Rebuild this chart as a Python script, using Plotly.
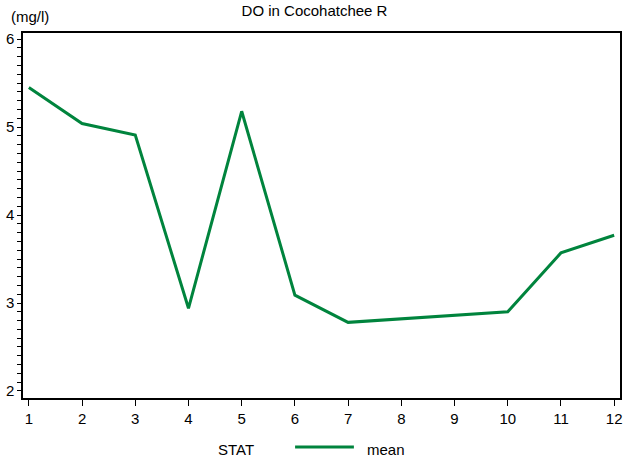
import plotly.graph_objects as go

months = [1, 2, 3, 4, 5, 6, 7, 10, 11, 12]
mean_do = [5.45, 5.04, 4.91, 2.94, 5.18, 3.09, 2.78, 2.90, 3.57, 3.77]
x_ticks = list(range(1, 13))
y_ticks = [2, 3, 4, 5, 6]

GREEN = "#00843D"
FONT = "Liberation Sans, Arial, sans-serif"

fig = go.Figure()
fig.add_trace(go.Scatter(x=months, y=mean_do, mode="lines", name="mean",
                         line=dict(color=GREEN, width=3), showlegend=False))

fig.update_layout(
    width=627, height=459,
    margin=dict(l=23, r=5, t=33, b=61),
    paper_bgcolor="white", plot_bgcolor="white",
    font=dict(family=FONT, size=15, color="black"),
    title=dict(text="DO in Cocohatchee R", x=314.5 / 627, xref="container", xanchor="center",
               y=1 - 11 / 459, yref="container", yanchor="middle",
               font=dict(size=15, family=FONT, color="black")),
    xaxis=dict(range=[0.89, 12.11], tickvals=x_ticks, ticks="outside", ticklen=6,
               tickcolor="black", showline=True, linecolor="black", linewidth=1.5,
               mirror=True, showgrid=False, zeroline=False,
               tickfont=dict(size=15)),
    yaxis=dict(range=[1.92, 6.07], tickvals=y_ticks, ticks="outside", ticklen=4,
               tickcolor="black", showline=True, linecolor="black", linewidth=1.5,
               mirror=True, showgrid=False, zeroline=False,
               minor=dict(dtick=0.1, tick0=2, ticks="outside", ticklen=4, tickcolor="black"),
               tickfont=dict(size=15)),
    showlegend=False,
)

fig.add_annotation(text="(mg/l)", xref="paper", yref="paper", x=(9 - 23) / 599, y=(398 - 17) / 365,
                   xanchor="left", yanchor="middle", showarrow=False, font=dict(size=15))
# legend drawn manually
fig.add_annotation(text="STAT", xref="paper", yref="paper", x=(237 - 23) / 599, y=(398 - 449) / 365,
                   xanchor="center", yanchor="middle", showarrow=False, font=dict(size=15))
fig.add_shape(type="line", xref="paper", yref="paper",
              x0=(296 - 23) / 599, x1=(355 - 23) / 599,
              y0=(398 - 447) / 365, y1=(398 - 447) / 365,
              line=dict(color=GREEN, width=3))
fig.add_annotation(text="mean", xref="paper", yref="paper", x=(366 - 23) / 599, y=(398 - 449) / 365,
                   xanchor="left", yanchor="middle", showarrow=False, font=dict(size=15))

fig.write_html("out.html", config={"displayModeBar": False},
               post_script="document.body.style.margin='0';")
